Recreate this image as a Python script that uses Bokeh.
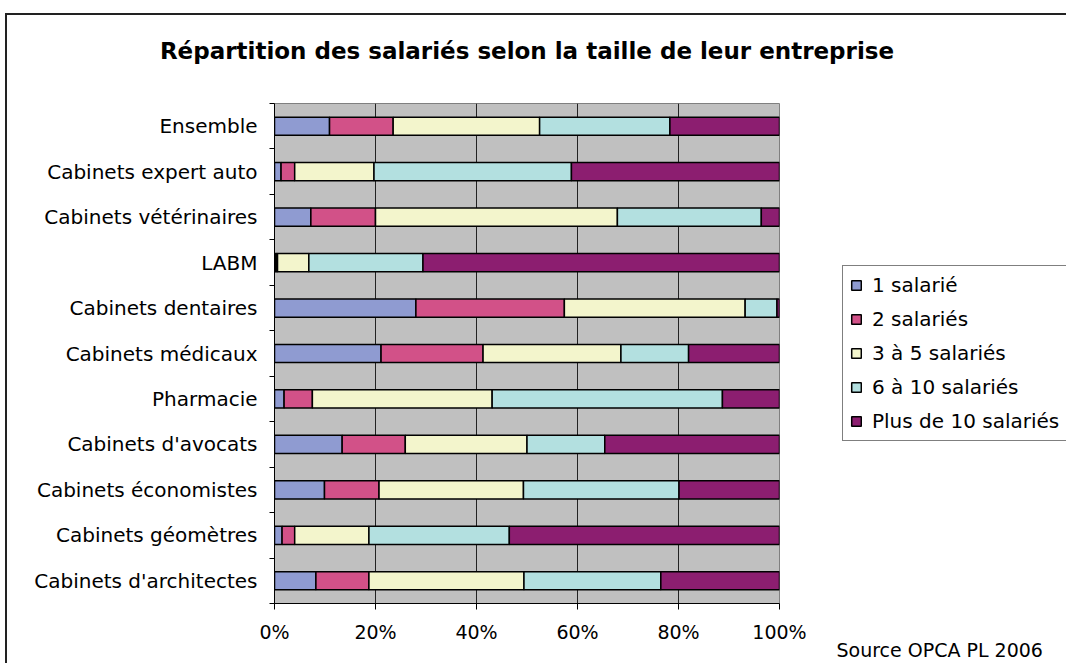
from bokeh.plotting import figure
from bokeh.models import (ColumnDataSource, Range1d, FixedTicker, Legend, LegendItem,
                          LinearAxis, Title, InlineStyleSheet)
from bokeh.embed import file_html
from bokeh.resources import INLINE

# ---- data ----
categories = ["Ensemble", "Cabinets expert auto", "Cabinets vétérinaires", "LABM",
              "Cabinets dentaires", "Cabinets médicaux", "Pharmacie", "Cabinets d'avocats",
              "Cabinets économistes", "Cabinets géomètres", "Cabinets d'architectes"]
series_names = ["1 salarié", "2 salariés", "3 à 5 salariés", "6 à 10 salariés", "Plus de 10 salariés"]
s1 = [10.9, 1.3, 7.2, 0.3, 28.0, 21.1, 1.9, 13.4, 9.9, 1.5, 8.2]
s2 = [12.6, 2.7, 12.8, 0.3, 29.4, 20.2, 5.6, 12.5, 10.8, 2.5, 10.5]
s3 = [29.0, 15.7, 47.9, 6.2, 35.8, 27.3, 35.6, 24.1, 28.6, 14.7, 30.7]
s4 = [25.8, 39.1, 28.5, 22.6, 6.3, 13.4, 45.6, 15.4, 30.8, 27.8, 27.1]
s5 = [21.7, 41.2, 3.6, 70.6, 0.5, 18.0, 11.3, 34.6, 19.9, 53.5, 23.5]
x_ticks = [0, 20, 40, 60, 80, 100]
x_tick_labels = ["0%", "20%", "40%", "60%", "80%", "100%"]
colors = ["#8F9BD1", "#D25188", "#F3F5CC", "#B3E0E0", "#8C1E70"]
title_text = "Répartition des salariés selon la taille de leur entreprise"
source_text = "Source OPCA PL 2006"

n = len(categories)
ypos = [n - 1 - i for i in range(n)]
keys = ["s1", "s2", "s3", "s4", "s5"]
src = ColumnDataSource(dict(y=ypos, cat=categories, s1=s1, s2=s2, s3=s3, s4=s4, s5=s5))

FONT = "DejaVu Sans"

border_css = InlineStyleSheet(css="""
:host { position: relative; }
:host::before {
  content: ""; position: absolute; left: 5px; top: 13px; right: 0; bottom: 0;
  border-left: 2px solid #222; border-top: 2px solid #222;
  pointer-events: none; z-index: 100;
}
""")

p = figure(frame_width=505, frame_height=500, output_backend="svg", toolbar_location=None,
           x_range=Range1d(0, 100), y_range=Range1d(-0.5, n - 0.5),
           min_border_left=274, min_border_right=287, min_border_top=103, min_border_bottom=60,
           stylesheets=[border_css])
p.background_fill_color = "#C0C0C0"
p.border_fill_color = "white"
p.outline_line_color = "#808080"
p.outline_line_width = 1

renderers = p.hbar_stack(keys, y="y", height=0.4, color=colors, source=src,
                         line_color="black", line_width=1.5)

# axes
p.xaxis.ticker = FixedTicker(ticks=x_ticks)
p.xaxis.major_label_overrides = {t: l for t, l in zip(x_ticks, x_tick_labels)}
p.xaxis.major_tick_out = 6
p.xaxis.major_tick_in = 0
p.xaxis.minor_tick_out = 0
p.xaxis.axis_line_color = "black"
p.xaxis.major_tick_line_color = "black"
p.xaxis.major_label_text_font = FONT
p.xaxis.major_label_text_font_size = "19px"
p.xaxis.major_label_text_color = "black"
p.xaxis.major_label_standoff = 11

p.yaxis.ticker = FixedTicker(ticks=ypos, minor_ticks=[i - 0.5 for i in range(n + 1)])
p.yaxis.major_label_overrides = {y: c for y, c in zip(ypos, categories)}
p.yaxis.major_tick_out = 0
p.yaxis.major_tick_in = 0
p.yaxis.minor_tick_out = 5
p.yaxis.minor_tick_in = 0
p.yaxis.minor_tick_line_color = "black"
p.yaxis.axis_line_color = "black"
p.yaxis.major_label_text_font = FONT
p.yaxis.major_label_text_font_size = "20px"
p.yaxis.major_label_text_color = "black"
p.yaxis.major_label_standoff = 12

p.xgrid.ticker = FixedTicker(ticks=x_ticks)
p.xgrid.grid_line_color = "#222222"
p.xgrid.grid_line_width = 1
p.ygrid.grid_line_color = None

# chart title, carried by an empty axis above the plot area
title_axis = LinearAxis(ticker=FixedTicker(ticks=[]),
                        axis_line_color=None, major_tick_line_color=None,
                        minor_tick_line_color=None, major_tick_out=0, minor_tick_out=0,
                        major_label_text_font_size="0px",
                        axis_label=title_text, axis_label_standoff=40,
                        axis_label_text_font=FONT, axis_label_text_font_style="bold",
                        axis_label_text_font_size="23px", axis_label_text_color="black")
p.add_layout(title_axis, "above")

# legend
legend = Legend(items=[LegendItem(label=nm, renderers=[r]) for nm, r in zip(series_names, renderers)],
                location=(63, 162), orientation="vertical",
                label_text_font=FONT, label_text_font_size="20px", label_text_color="black",
                glyph_width=12, glyph_height=12, label_height=24, spacing=10,
                padding=7, margin=0, label_standoff=10,
                border_line_color="black", border_line_width=1,
                background_fill_color="white", background_fill_alpha=1)
p.add_layout(legend, "right")

# source note
p.add_layout(Title(text=source_text, align="left", offset=562, standoff=-18,
                   text_font=FONT, text_font_style="normal", text_font_size="19px",
                   text_color="black"), "below")

open("out.html", "w").write(file_html(p, INLINE))
